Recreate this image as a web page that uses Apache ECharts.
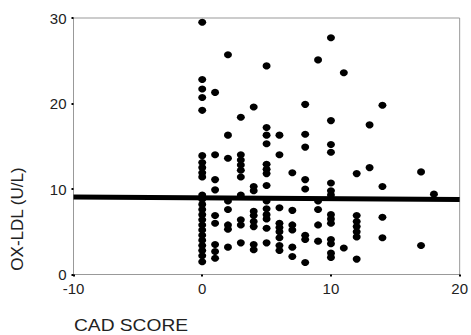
<!DOCTYPE html>
<html>
<head>
<meta charset="utf-8">
<script src="https://cdn.jsdelivr.net/npm/echarts@6/dist/echarts.min.js"></script>
<style>
html,body{margin:0;padding:0;background:#fff;}
#chart{width:471px;height:335px;}
</style>
</head>
<body>
<div id="chart"></div>
<script>
// CAD score levels and the OX-LDL values observed at each level
const scoreLevels = [0, 1, 2, 3, 4, 5, 6, 7, 8, 9, 10, 11, 12, 13, 14, 17, 18];
const oxLdlAtLevel = [
  [29.5, 22.8, 21.7, 20.7, 19.2, 13.9, 13.1, 12.5, 11.9, 11.4, 9.3, 8.8, 8.2, 7.6, 7.0, 6.4, 5.8, 5.2, 4.6, 4.0, 3.4, 2.8, 2.2, 1.5],
  [21.3, 14.0, 11.1, 9.9, 6.9, 6.0, 3.5, 2.7, 1.9],
  [25.7, 16.3, 13.6, 8.6, 7.6, 5.8, 5.3, 3.2],
  [18.4, 14.0, 13.4, 12.8, 12.2, 11.4, 9.3, 6.4, 5.8, 3.7],
  [19.6, 10.3, 9.8, 7.4, 6.9, 6.2, 5.6, 3.5, 2.9],
  [24.4, 17.2, 16.3, 15.3, 12.9, 12.3, 11.8, 10.4, 8.6, 7.7, 7.0, 6.5, 5.4, 3.7],
  [16.3, 14.0, 7.8, 6.0, 5.5, 5.0, 4.3, 3.4, 2.8],
  [11.9, 7.5, 5.8, 5.2, 3.2, 2.1],
  [19.9, 16.4, 14.9, 11.1, 10.0, 4.6, 4.1, 1.4],
  [25.1, 8.6, 7.6, 5.8, 3.9],
  [27.7, 18.0, 15.2, 14.3, 10.7, 9.8, 9.3, 7.0, 6.5, 6.0, 4.1, 3.6, 2.5, 2.0],
  [23.6, 3.1],
  [11.8, 6.9, 6.2, 5.6, 5.0, 4.4, 1.8],
  [17.5, 12.5],
  [19.8, 10.3, 6.7, 4.3],
  [12.0, 3.4],
  [9.4]
];
// fitted regression line end points
const fitX = [-10, 20];
const fitY = [9.07, 8.76];
// axis ticks
const xTicks = [-10, 0, 10, 20];
const yTicks = [0, 10, 20, 30];
const xAxisTitle = 'CAD SCORE';
const yAxisTitle = 'OX-LDL (U/L)';

const points = [];
scoreLevels.forEach((s, i) => oxLdlAtLevel[i].forEach(v => points.push([s, v])));
const fitLine = fitX.map((x, i) => [x, fitY[i]]);

const chart = echarts.init(document.getElementById('chart'), null, {renderer: 'svg'});
const labelStyle = {color: '#222', fontSize: 15, fontFamily: 'Liberation Sans, Arial, sans-serif'};
chart.setOption({
  animation: false,
  backgroundColor: '#fff',
  grid: {left: 73.5, right: 9.5, top: 18, bottom: 60.5, show: true, borderColor: '#999', borderWidth: 1, backgroundColor: 'transparent'},
  xAxis: {
    type: 'value', min: xTicks[0], max: xTicks[xTicks.length - 1], interval: 10,
    splitLine: {show: false},
    axisLine: {onZero: false, lineStyle: {color: '#999', width: 1}},
    axisTick: {show: true, length: 2, lineStyle: {color: '#000', width: 2}},
    axisLabel: Object.assign({margin: 6}, labelStyle)
  },
  yAxis: {
    type: 'value', min: yTicks[0], max: yTicks[yTicks.length - 1], interval: 10,
    splitLine: {show: false},
    axisLine: {onZero: false, lineStyle: {color: '#999', width: 1}},
    axisTick: {show: true, length: 2, lineStyle: {color: '#000', width: 2}},
    axisLabel: Object.assign({margin: 7}, labelStyle)
  },
  graphic: [
    {type: 'text', x: 17, y: 219, rotation: Math.PI / 2,
     style: {text: yAxisTitle, fill: '#222', fontSize: 17, fontFamily: 'Liberation Sans, Arial, sans-serif', align: 'center', verticalAlign: 'middle'}},
    {type: 'text', x: 74, y: 325.5, scaleX: 1.2,
     style: {text: xAxisTitle, fill: '#222', fontSize: 16, fontFamily: 'Liberation Sans, Arial, sans-serif', align: 'left', verticalAlign: 'middle'}}
  ],
  series: [
    {type: 'scatter', data: points, symbol: 'circle', symbolSize: [8, 7], itemStyle: {color: '#000', opacity: 1}, z: 3},
    {type: 'line', data: fitLine, symbol: 'none', lineStyle: {color: '#000', width: 5}, z: 4}
  ]
});
</script>
</body>
</html>
